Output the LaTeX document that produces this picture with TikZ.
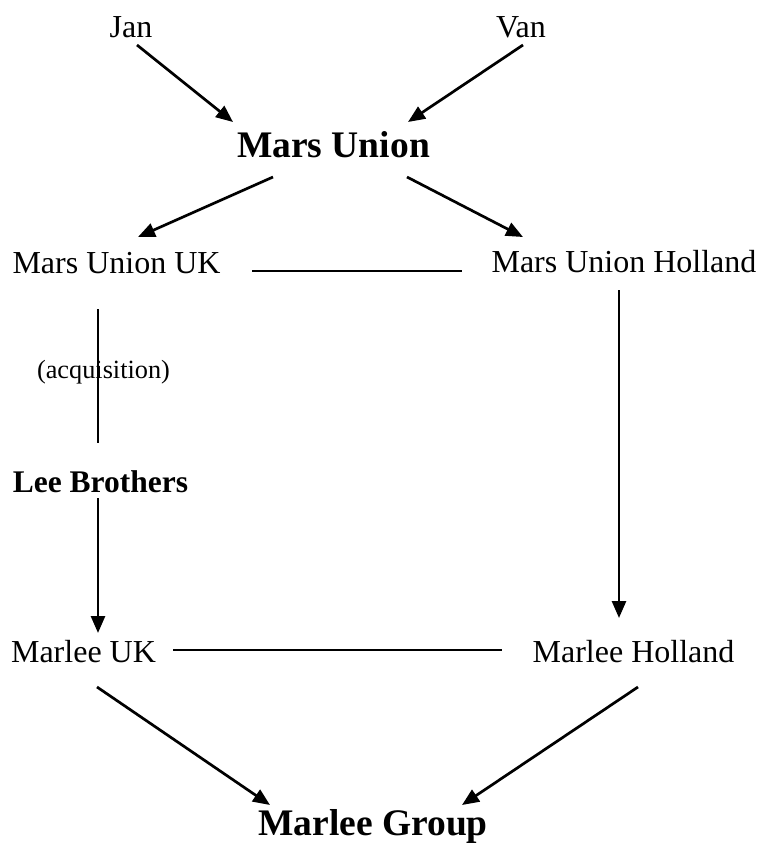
\documentclass[tikz,border=0pt]{standalone}
\usepackage{fontspec}
\setmainfont{Liberation Serif}
\usetikzlibrary{arrows.meta}

\begin{document}
\begin{tikzpicture}[x=1pt,y=-1pt,
	plain/.style={inner sep=0pt, anchor=base, font=\fontsize{32}{38}\selectfont},
	heading/.style={inner sep=0pt, anchor=base, font=\fontsize{37.5}{44}\selectfont\bfseries},
	arr/.style={line width=2.7pt, -{Triangle[length=17pt,width=14pt]}},
	link/.style={line width=2pt}]
	\useasboundingbox (0,0) rectangle (763,844);

	\node (jan)[plain] at(131,37) {Jan};
	\node (van)[plain] at(521,37) {Van};
	\node (mu)[heading] at(333.5,157) {Mars Union};

	\node (muuk)[plain] at(116.5,273) {Mars Union UK};
	\node (muh)[plain] at(624,272) {Mars Union Holland};

	\node (acq)[plain, font=\fontsize{26.3}{32}\selectfont] at(103.5,378) {(acquisition)};
	\node (lee)[heading, font=\fontsize{31.5}{38}\selectfont\bfseries] at(100.5,492) {Lee Brothers};

	\node (mluk)[plain] at(83.5,662) {Marlee UK};
	\node (mlh)[plain] at(633.5,662) {Marlee Holland};
	\node (mg)[heading] at(373,835) {Marlee Group};

	\draw [arr]([xshift=6pt,yshift=-8pt]jan.base)--([xshift=-100.5pt,yshift=35pt]mu.base);
	\draw [arr]([xshift=2pt,yshift=-8pt]van.base)--([xshift=74.5pt,yshift=35pt]mu.base);
	\draw [arr]([xshift=-60.5pt,yshift=-20pt]mu.base)--([xshift=21.5pt,yshift=36pt]muuk.base);
	\draw [arr]([xshift=73.5pt,yshift=-20pt]mu.base)--([xshift=-101pt,yshift=35pt]muh.base);

	\draw [link]([xshift=135.5pt,yshift=2pt]muuk.base)--([xshift=-162pt,yshift=1pt]muh.base);
	\draw [line width=2.7pt]([xshift=-18.5pt,yshift=-36pt]muuk.base)--([xshift=-2.5pt,yshift=49pt]lee.base);
	\draw [arr]([xshift=-2.5pt,yshift=-6pt]lee.base)--([xshift=14.5pt,yshift=29pt]mluk.base);
	\draw [arr]([xshift=-5pt,yshift=-18pt]muh.base)--([xshift=-14.5pt,yshift=44pt]mlh.base);

	\draw [link]([xshift=89.5pt,yshift=12pt]mluk.base)--([xshift=-131.5pt,yshift=12pt]mlh.base);
	\draw [arr]([xshift=13.5pt,yshift=-25pt]mluk.base)--([xshift=-103pt,yshift=30pt]mg.base);
	\draw [arr]([xshift=4.5pt,yshift=-25pt]mlh.base)--([xshift=89pt,yshift=30pt]mg.base);
\end{tikzpicture}
\end{document}
